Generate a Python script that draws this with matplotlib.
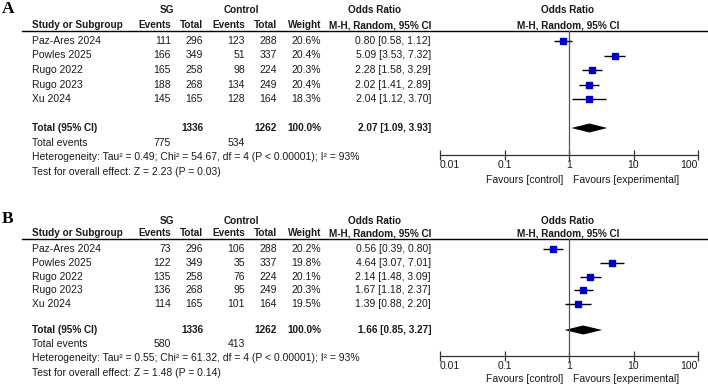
import matplotlib
matplotlib.use("Agg")
import matplotlib.pyplot as plt

plt.rcParams['font.family'] = ['Liberation Sans', 'DejaVu Sans']

studies = ["Paz-Ares 2024", "Powles 2025", "Rugo 2022", "Rugo 2023", "Xu 2024"]
sg_total = [296, 349, 258, 268, 165]
ctrl_total = [288, 337, 224, 249, 164]

# panel A
a_sg_events = [111, 166, 165, 188, 145]
a_ctrl_events = [123, 51, 98, 134, 128]
a_weight = [20.6, 20.4, 20.3, 20.4, 18.3]
a_or = [0.80, 5.09, 2.28, 2.02, 2.04]
a_lo = [0.58, 3.53, 1.58, 1.41, 1.12]
a_hi = [1.12, 7.32, 3.29, 2.89, 3.70]
a_pooled = (2.07, 1.09, 3.93)
a_tot_events = (775, 534)
a_het = "Heterogeneity: Tau\u00b2 = 0.49; Chi\u00b2 = 54.67, df = 4 (P < 0.00001); I\u00b2 = 93%"
a_test = "Test for overall effect: Z = 2.23 (P = 0.03)"

# panel B
b_sg_events = [73, 122, 135, 136, 114]
b_ctrl_events = [106, 35, 76, 95, 101]
b_weight = [20.2, 19.8, 20.1, 20.3, 19.5]
b_or = [0.56, 4.64, 2.14, 1.67, 1.39]
b_lo = [0.39, 3.07, 1.48, 1.18, 0.88]
b_hi = [0.80, 7.01, 3.09, 2.37, 2.20]
b_pooled = (1.66, 0.85, 3.27)
b_tot_events = (580, 413)
b_het = "Heterogeneity: Tau\u00b2 = 0.55; Chi\u00b2 = 61.32, df = 4 (P < 0.00001); I\u00b2 = 93%"
b_test = "Test for overall effect: Z = 1.48 (P = 0.14)"

ticks = [0.01, 0.1, 1, 10, 100]
tick_labels = ["0.01", "0.1", "1", "10", "100"]

W, H = 708, 385
fig = plt.figure(figsize=(W / 100, H / 100), dpi=100)
tax = fig.add_axes([0, 0, 1, 1])
tax.set_xlim(0, W)
tax.set_ylim(H, 0)
tax.axis("off")

FS = 7.5    # regular text
FB = 7.2    # bold headers
TXT = "#1a1a1a"

# column x positions (right edges) in pixels
X_STUDY = 32
X_SGE, X_SGT, X_CE, X_CT, X_W, X_OR = 171, 203, 245, 277, 321, 431
X_AX0, X_AX1 = 440, 698


def draw_panel(label, lab_y, h1, line_y, row0, step, tot_y, ev_y, het_y, test_y, ax_y, fav_y,
               sg_ev, ct_ev, weight, orv, lo, hi, pooled, tot_ev, het, test):
    tax.text(2, lab_y, label, fontsize=12.5, fontweight="bold", family="Liberation Serif",
             va="center", ha="left", color="black")
    h2 = line_y - 6
    tax.text(167, h1, "SG", fontsize=FB, fontweight="bold", ha="center", va="center", color=TXT)
    tax.text(241, h1, "Control", fontsize=FB, fontweight="bold", ha="center", va="center", color=TXT)
    tax.text(X_OR - 56, h1, "Odds Ratio", fontsize=FB, fontweight="bold", ha="center", va="center", color=TXT)
    tax.text(568, h1, "Odds Ratio", fontsize=FB, fontweight="bold", ha="center", va="center", color=TXT)
    heads = [(X_STUDY, "Study or Subgroup", "left"), (X_SGE, "Events", "right"), (X_SGT, "Total", "right"),
             (X_CE, "Events", "right"), (X_CT, "Total", "right"), (X_W, "Weight", "right"),
             (X_OR, "M-H, Random, 95% CI", "right"), (568, "M-H, Random, 95% CI", "center")]
    for x, t, ha in heads:
        tax.text(x, h2, t, fontsize=FB, fontweight="bold", ha=ha, va="center", color=TXT)
    tax.plot([22, W], [line_y, line_y], color="black", lw=1.0)

    for i, name in enumerate(studies):
        y = row0 + i * step
        tax.text(X_STUDY, y, name, fontsize=FS, ha="left", va="center", color=TXT)
        vals = [(X_SGE, str(sg_ev[i])), (X_SGT, str(sg_total[i])), (X_CE, str(ct_ev[i])),
                (X_CT, str(ctrl_total[i])), (X_W, f"{weight[i]:.1f}%"),
                (X_OR, f"{orv[i]:.2f} [{lo[i]:.2f}, {hi[i]:.2f}]")]
        for x, t in vals:
            tax.text(x, y, t, fontsize=FS, ha="right", va="center", color=TXT)

    tax.text(X_STUDY, tot_y, "Total (95% CI)", fontsize=FB, fontweight="bold", ha="left", va="center", color=TXT)
    for x, t in [(X_SGT, str(sum(sg_total))), (X_CT, str(sum(ctrl_total))), (X_W, "100.0%"),
                 (X_OR, f"{pooled[0]:.2f} [{pooled[1]:.2f}, {pooled[2]:.2f}]")]:
        tax.text(x, tot_y, t, fontsize=FB, fontweight="bold", ha="right", va="center", color=TXT)
    tax.text(X_STUDY, ev_y, "Total events", fontsize=FS, ha="left", va="center", color=TXT)
    tax.text(X_SGE, ev_y, str(tot_ev[0]), fontsize=FS, ha="right", va="center", color=TXT)
    tax.text(X_CE, ev_y, str(tot_ev[1]), fontsize=FS, ha="right", va="center", color=TXT)
    tax.text(X_STUDY, het_y, het, fontsize=FS, ha="left", va="center", color=TXT)
    tax.text(X_STUDY, test_y, test, fontsize=FS, ha="left", va="center", color=TXT)

    # forest plot axes
    ax = fig.add_axes([X_AX0 / W, (H - ax_y) / H, (X_AX1 - X_AX0) / W, (ax_y - line_y) / H])
    ax.set_xscale("log")
    ax.set_xlim(0.01, 100)
    ax.set_ylim(ax_y, line_y)
    ax.patch.set_visible(False)
    for s in ["top", "left", "right"]:
        ax.spines[s].set_visible(False)
    ax.spines["bottom"].set_linewidth(0.9)
    ax.spines["bottom"].set_color("#333333")
    ax.set_yticks([])
    ax.set_xticks(ticks)
    ax.set_xticklabels(tick_labels)
    ax.xaxis.set_minor_locator(matplotlib.ticker.NullLocator())
    ax.tick_params(axis="x", direction="inout", length=7, width=0.9, color="#333333",
                   labelsize=FS, labelcolor=TXT, pad=0)
    lbls = ax.get_xticklabels()
    lbls[0].set_ha("left")
    lbls[-1].set_ha("right")
    ax.axvline(1, color="#555555", lw=0.9)

    ys = [row0 + i * step for i in range(len(studies))]
    ax.hlines(ys, lo, hi, color="black", lw=1.0)
    ax.plot(orv, ys, "s", color="#0000c8", ms=3.8, mec="#0000c8")
    est, plo, phi = pooled
    ax.fill([plo, est, phi, est], [tot_y, tot_y - 4.5, tot_y, tot_y + 4.5], color="black", lw=0)

    tax.text(563, fav_y, "Favours [control]", fontsize=FS, ha="right", va="center", color=TXT)
    tax.text(573, fav_y, "Favours [experimental]", fontsize=FS, ha="left", va="center", color=TXT)


draw_panel("A", 9, 10, 31, 41, 14.5, 128, 143, 157, 172, 155, 180,
           a_sg_events, a_ctrl_events, a_weight, a_or, a_lo, a_hi, a_pooled, a_tot_events, a_het, a_test)
draw_panel("B", 219, 221, 239, 249, 13.8, 330, 344, 358, 373, 356, 379,
           b_sg_events, b_ctrl_events, b_weight, b_or, b_lo, b_hi, b_pooled, b_tot_events, b_het, b_test)

fig.savefig("out.png", dpi=100)
